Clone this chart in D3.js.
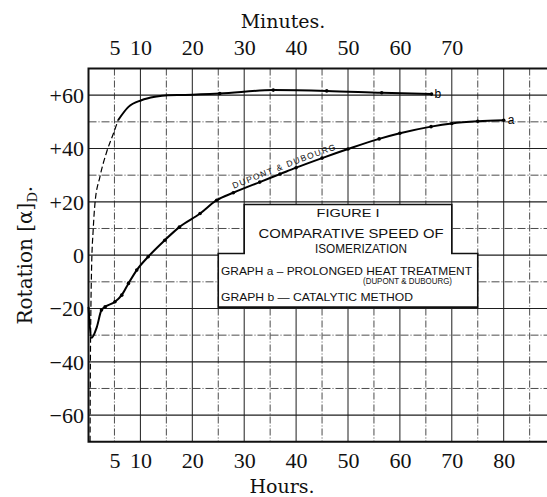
<!DOCTYPE html>
<html>
<head>
<meta charset="utf-8">
<script src="https://cdn.jsdelivr.net/npm/d3@7"></script>
<style>
  body { margin: 0; background: #fff; }
  svg { display: block; }
</style>
</head>
<body>
<svg id="chart" width="547" height="497"></svg>
<script>
// graph a: prolonged heat treatment (Dupont & Dubourg), hours
const aHours    = [0, 0.6, 1.6, 2.5, 3.2, 5.1, 6.4, 7.7, 9.3, 11.5, 14.7, 17.5, 21.5, 24.7, 27.9, 33, 36.9, 40, 45, 50, 56, 60, 66, 70, 75, 80];
const aRotation = [-19.4, -31, -27, -20.6, -19.4, -17.5, -15, -10.6, -5.6, -0.6, 5.6, 10.5, 15.6, 20.6, 23.4, 27.4, 30.4, 32.8, 36.4, 39.8, 43.6, 45.7, 48.2, 49.4, 50.2, 50.6];

// graph b: catalytic method, minutes
const bMinutes  = [0.3, 0.35, 0.45, 0.6, 0.9, 1.25, 2.2, 3.5, 4.8, 5.7, 7.7, 10.2, 12.8, 15.3, 18.6, 25.3, 35.6, 45.9, 56.5, 66.1];
const bRotation = [-70, -45, -22, -4.4, 9.4, 19.5, 29.4, 38.7, 45.6, 50.6, 55.6, 58.1, 59.4, 60, 60.1, 60.6, 61.9, 61.6, 60.9, 60.4];

const hourTicks   = [5, 10, 20, 30, 40, 50, 60, 70, 80];
const minuteTicks = [5, 10, 20, 30, 40, 50, 60, 70];
const rotationTicks = [-60, -40, -20, 0, 20, 40, 60];

const svg = d3.select("#chart");
const W = 547, H = 497;
const plotLeft = 88.5, plotTop = 68.5, plotBottom = 441.8;

// hours and minutes share one ruling on the original sheet
const x = d3.scaleLinear().domain([0, 90]).range([plotLeft, plotLeft + 90 * 5.19]);
const y = d3.scaleLinear().domain([-70, 70]).range([plotBottom, plotTop]);

const serif = "'Liberation Serif', 'Times New Roman', serif";
const letter = "'Liberation Sans', Arial, sans-serif";

// grid
const grid = svg.append("g").attr("stroke", "#1e1e1e").attr("fill", "none");
grid.selectAll("line.v")
    .data(d3.range(5, 95, 5))
    .join("line")
    .attr("x1", d => x(d)).attr("x2", d => x(d))
    .attr("y1", plotTop).attr("y2", plotBottom)
    .attr("stroke-width", d => d % 10 === 0 ? 1 : 0.8)
    .attr("stroke-dasharray", d => d % 10 === 0 ? null : "7,2,1,2");
grid.selectAll("line.h")
    .data(d3.range(-60, 70, 10))
    .join("line")
    .attr("x1", plotLeft).attr("x2", W)
    .attr("y1", d => y(d)).attr("y2", d => y(d))
    .attr("stroke-width", d => d % 20 === 0 ? 1.2 : 0.8)
    .attr("stroke-dasharray", d => d % 20 === 0 ? null : "8,2,1,2");

// frame
svg.append("path")
    .attr("d", `M${W},${plotTop}H${plotLeft}V${plotBottom}H${W}`)
    .attr("fill", "none").attr("stroke", "#111").attr("stroke-width", 2);

// annotation box (in data units so it sits on the ruling)
const boxPts = [[30, 19], [70, 19], [70, 0.6], [75, 0.6], [75, -19.5], [25, -19.5], [25, 0.6], [30, 0.6]];
svg.append("path")
    .attr("d", d3.line().x(d => x(d[0])).y(d => y(d[1]))(boxPts) + "Z")
    .attr("fill", "#fff").attr("stroke", "#111").attr("stroke-width", 1.6);

const boxText = [
    { t: "FIGURE I", cx: 348, by: 217, size: 11.5, len: 63 },
    { t: "COMPARATIVE SPEED OF", cx: 351, by: 238, size: 13, len: 185 },
    { t: "ISOMERIZATION", cx: 361, by: 253, size: 13, len: 92 },
    { t: "GRAPH a – PROLONGED HEAT TREATMENT", cx: 346.5, by: 275, size: 10.5, len: 251 },
    { t: "(DUPONT & DUBOURG)", cx: 407.5, by: 284, size: 9, len: 89 },
    { t: "GRAPH b — CATALYTIC METHOD", cx: 317, by: 301, size: 10.5, len: 192 }
];
svg.append("g").selectAll("text")
    .data(boxText)
    .join("text")
    .attr("x", d => d.cx).attr("y", d => d.by)
    .attr("text-anchor", "middle")
    .attr("textLength", d => d.len).attr("lengthAdjust", "spacingAndGlyphs")
    .style("font-family", letter).style("font-size", d => d.size + "px")
    .attr("fill", "#111")
    .text(d => d.t);

// curves
const aData = aHours.map((h, i) => ({ t: h, v: aRotation[i] }));
const bData = bMinutes.map((m, i) => ({ t: m, v: bRotation[i] }));
const line = d3.line().x(d => x(d.t)).y(d => y(d.v)).curve(d3.curveMonotoneX);

svg.append("path").attr("id", "curve-a")
    .attr("d", line(aData))
    .attr("fill", "none").attr("stroke", "#000").attr("stroke-width", 2);

svg.append("path")
    .attr("d", line(bData.filter(d => d.t <= 5.7)))
    .attr("fill", "none").attr("stroke", "#000").attr("stroke-width", 1.2)
    .attr("stroke-dasharray", "6,3");
svg.append("path")
    .attr("d", line(bData.filter(d => d.t >= 5.7)))
    .attr("fill", "none").attr("stroke", "#000").attr("stroke-width", 2);

svg.append("g").selectAll("circle")
    .data(aData.filter(d => d.t >= 2).concat(bData.filter(d => d.t >= 20)))
    .join("circle")
    .attr("cx", d => x(d.t)).attr("cy", d => y(d.v)).attr("r", 1.8)
    .attr("fill", "#000");

// label riding on curve a
svg.append("path").attr("id", "label-path")
    .attr("d", line(aData.filter(d => d.t >= 27 && d.t <= 56)))
    .attr("fill", "none");
svg.append("text")
    .attr("dy", -3.5)
    .style("font-family", letter).style("font-size", "8.5px")
    .style("letter-spacing", "1.3px")
    .attr("fill", "#111")
    .append("textPath").attr("href", "#label-path").attr("startOffset", 2)
    .text("DUPONT & DUBOURG");

// end letters
const aLast = aData[aData.length - 1], bLast = bData[bData.length - 1];
svg.append("text").attr("x", x(aLast.t) + 4).attr("y", y(aLast.v) + 4)
    .style("font-family", letter).style("font-size", "12px").text("a");
svg.append("text").attr("x", x(bLast.t) + 3).attr("y", y(bLast.v) + 4)
    .style("font-family", letter).style("font-size", "12px").text("b");

// axes
const bottomAxis = svg.append("g")
    .attr("transform", `translate(0,${plotBottom})`)
    .call(d3.axisBottom(x).tickValues(hourTicks).tickSize(0));
bottomAxis.selectAll("text").attr("y", 26.5).attr("dy", null);

const topAxis = svg.append("g")
    .attr("transform", `translate(0,${plotTop})`)
    .call(d3.axisTop(x).tickValues(minuteTicks).tickSize(0));
topAxis.selectAll("text").attr("y", -13.5).attr("dy", null);

const leftAxis = svg.append("g")
    .attr("transform", `translate(${plotLeft - 4.5},0)`)
    .call(d3.axisLeft(y).tickValues(rotationTicks).tickSize(0).tickPadding(0)
        .tickFormat(d => d > 0 ? "+" + d : d < 0 ? "\u2212" + Math.abs(d) : "0"));
leftAxis.selectAll("text").attr("dy", "0.34em");

[bottomAxis, topAxis, leftAxis].forEach(g => {
    g.select(".domain").remove();
    g.selectAll("text").attr("fill", "#111")
        .style("font-family", serif).style("font-size", "22px");
});

// titles
const titleFont = "'DejaVu Serif', serif";
svg.append("text").attr("x", 283).attr("y", 28).attr("text-anchor", "middle")
    .style("font-family", titleFont).style("font-size", "19px").attr("fill", "#111")
    .text("Minutes.");
svg.append("text").attr("x", 282).attr("y", 493).attr("text-anchor", "middle")
    .style("font-family", titleFont).style("font-size", "19px").attr("fill", "#111")
    .text("Hours.");

const yTitle = svg.append("text")
    .attr("transform", `translate(31.5,${y(0)}) rotate(-90)`)
    .attr("text-anchor", "middle")
    .style("font-family", titleFont).style("font-size", "20px").attr("fill", "#111");
yTitle.append("tspan").text("Rotation [α]");
yTitle.append("tspan").attr("dy", 5).style("font-size", "13px").text("D");
yTitle.append("tspan").attr("dy", -5).text(".");
</script>
</body>
</html>
